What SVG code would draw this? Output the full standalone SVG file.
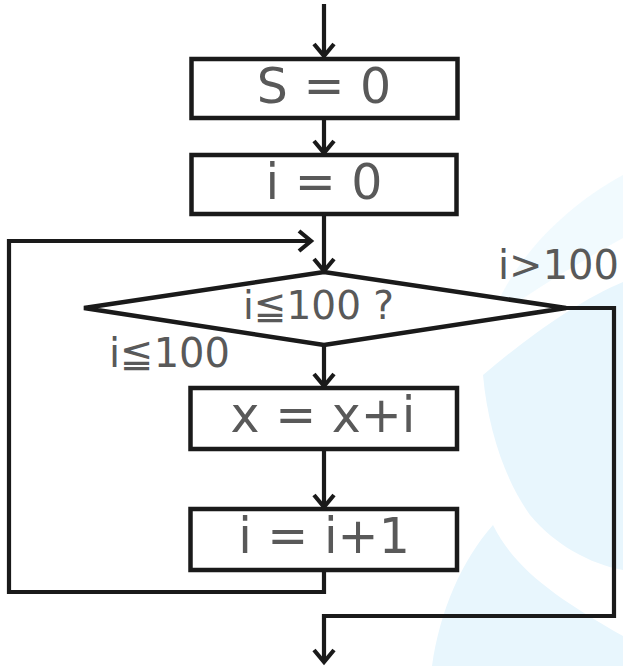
<svg xmlns="http://www.w3.org/2000/svg" width="623" height="666" viewBox="0 0 623 666">
  <style>
    .box { fill: #ffffff; stroke: #1a1a1a; stroke-width: 4.5; }
    .lbl { font-family: "DejaVu Sans", "Noto Sans CJK JP", sans-serif; fill: #595959; }
    .big { font-size: 49px; text-anchor: middle; }
    .cond { font-size: 40px; }
    .wire { fill: none; stroke: #1a1a1a; stroke-width: 4.2; stroke-linejoin: miter; }
    .mark { fill: #e8f6fd; }
  </style>
  <defs>
    <marker id="arrow" markerUnits="userSpaceOnUse" markerWidth="30" markerHeight="30" refX="0" refY="0" orient="auto" viewBox="-15 -15 30 30" overflow="visible">
      <path d="M -12 -10 L 0 0 L -12 10" fill="none" stroke="#1a1a1a" stroke-width="4.2"/>
    </marker>
  </defs>

  <rect width="623" height="666" fill="#ffffff"/>

  <!-- faint background watermark -->
  <g id="watermark">
    <path class="mark" d="M 490 322 C 505 275 550 215 623 175 L 623 238 C 580 262 525 295 490 322 Z" opacity="0.6"/>
    <path class="mark" d="M 483 375 C 530 335 580 300 623 282 L 623 570 C 590 564 555 545 530 515 C 505 480 488 430 483 375 Z"/>
    <path class="mark" d="M 493 525 C 515 570 560 600 623 636 L 623 666 L 432 666 C 440 610 462 560 493 525 Z"/>
  </g>

  <!-- connectors -->
  <g id="connectors">
    <path class="wire" d="M 324 4 L 324 56" marker-end="url(#arrow)"/>
    <path class="wire" d="M 324 120 L 324 153" marker-end="url(#arrow)"/>
    <path class="wire" d="M 324 216 L 324 271" marker-end="url(#arrow)"/>
    <path class="wire" d="M 324 346 L 324 386" marker-end="url(#arrow)"/>
    <path class="wire" d="M 324 451 L 324 507" marker-end="url(#arrow)"/>
    <path class="wire" d="M 324 572 L 324 592 L 9 592 L 9 241 L 311 241" marker-end="url(#arrow)"/>
    <path class="wire" d="M 566 308 L 614 308 L 614 616 L 324 616 L 324 662" marker-end="url(#arrow)"/>
  </g>

  <g id="init-s">
    <rect class="box" x="191.5" y="59" width="266" height="59"/>
    <text class="lbl big" x="324" y="103">S = 0</text>
  </g>

  <g id="init-i">
    <rect class="box" x="191.5" y="155" width="265" height="59"/>
    <text class="lbl big" x="324" y="199">i = 0</text>
  </g>

  <g id="test">
    <polygon class="box" points="84,308 324,272 566,308 324,345"/>
    <text class="lbl" x="243" y="319" font-size="39">i≦100 ?</text>
  </g>

  <g id="label-exit">
    <text class="lbl cond" x="498" y="279">i&gt;100</text>
  </g>

  <g id="label-loop">
    <text class="lbl cond" x="109" y="367">i≦100</text>
  </g>

  <g id="accumulate">
    <rect class="box" x="190.5" y="388" width="266.5" height="61"/>
    <text class="lbl big" x="323" y="432">x = x+i</text>
  </g>

  <g id="increment">
    <rect class="box" x="190.5" y="509" width="266.5" height="61"/>
    <text class="lbl big" x="324" y="553">i = i+1</text>
  </g>
</svg>
